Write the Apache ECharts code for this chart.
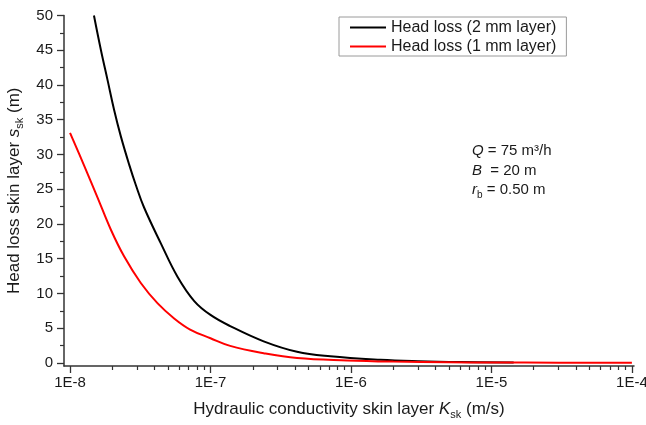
<!DOCTYPE html>
<html>
<head>
<meta charset="utf-8">
<script src="https://cdn.jsdelivr.net/npm/echarts@6/dist/echarts.min.js"></script>
<style>
html,body{margin:0;padding:0;background:#fff;}
#chart{width:646px;height:425px;}
</style>
</head>
<body>
<div id="chart"></div>
<script>
// ---- Data ----
// Hydraulic conductivity of skin layer K_sk (m/s) and head loss s_sk (m)
const kTwoMm = [1.48e-8, 1.66e-8, 1.85e-8, 2.06e-8, 2.30e-8, 2.64e-8, 2.94e-8, 3.36e-8, 4.43e-8, 5.82e-8, 7.66e-8, 1.0e-7, 1.38e-7, 2.39e-7, 4.13e-7, 7.13e-7, 1.62e-6, 3.0e-6, 6.0e-6, 1.44e-5];
const sTwoMm = [50.0, 45.0, 40.7, 36.4, 32.6, 28.5, 25.6, 22.4, 17.2, 12.4, 8.9, 6.9, 5.3, 3.1, 1.6, 0.95, 0.45, 0.25, 0.13, 0.07];

const kOneMm = [1.0e-8, 1.26e-8, 1.57e-8, 1.95e-8, 2.43e-8, 3.19e-8, 4.19e-8, 5.51e-8, 7.16e-8, 1.0e-7, 1.38e-7, 2.39e-7, 4.13e-7, 9.4e-7, 2.0e-6, 5.0e-6, 1.0e-5, 3.0e-5, 1.0e-4];
const sOneMm = [33.1, 28.4, 23.8, 19.2, 15.3, 11.5, 8.6, 6.4, 4.8, 3.55, 2.45, 1.4, 0.7, 0.35, 0.18, 0.08, 0.05, 0.03, 0.02];

const seriesNames = ['Head loss (2 mm layer)', 'Head loss (1 mm layer)'];
const xDecadeExponents = [-8, -7, -6, -5, -4];       // tick labels 1E-8 ... 1E-4
const yMajorTicks = [0, 5, 10, 15, 20, 25, 30, 35, 40, 45, 50];
const yMinorTicks = [2.5, 7.5, 12.5, 17.5, 22.5, 27.5, 32.5, 37.5, 42.5, 47.5];
const minorMultipliers = [2, 3, 4, 5, 6, 7, 8, 9];

// ---- Build chart ----
const FONT = "'Liberation Sans', Arial, sans-serif";
const TXT = '#1a1a1a';
const AX = '#333333';

const xMinorTicks = [];
for (let e = -8; e < -4; e++) {
  minorMultipliers.forEach(m => xMinorTicks.push(e + Math.log10(m)));
}
const toPairs = (ks, vs) => ks.map((k, i) => [Math.log10(k), vs[i]]);

const chart = echarts.init(document.getElementById('chart'), null, {renderer: 'canvas'});
const X_MIN = -8.043, X_MAX = -3.985;

const nameRich = {
  n: {fontSize: 17, fontFamily: FONT, color: TXT, lineHeight: 22},
  i: {fontSize: 17, fontFamily: FONT, color: TXT, fontStyle: 'italic', lineHeight: 22},
  sub: {fontSize: 11, fontFamily: FONT, color: TXT, verticalAlign: 'bottom', lineHeight: 12}
};

chart.setOption({
  animation: false,
  backgroundColor: '#ffffff',
  textStyle: {fontFamily: FONT},
  grid: {left: 64, right: 12, top: 15.5, bottom: 59, containLabel: false, outerBoundsMode: 'none'},
  legend: {
    orient: 'vertical',
    left: 339, top: 17,
    padding: [2, 10, 1, 11],
    itemGap: 2,
    itemWidth: 36, itemHeight: 2,
    icon: 'rect',
    borderColor: '#9a9a9a', borderWidth: 1,
    textStyle: {fontFamily: FONT, fontSize: 16, color: TXT, lineHeight: 17},
    data: seriesNames
  },
  xAxis: [
    {
      type: 'value', min: X_MIN, max: X_MAX, position: 'bottom',
      axisLine: {show: true, onZero: false, lineStyle: {color: AX, width: 1.5}},
      axisTick: {show: true, inside: false, length: 7, customValues: xDecadeExponents, lineStyle: {color: AX, width: 1.3}},
      axisLabel: {show: true, customValues: xDecadeExponents, formatter: v => '1E' + Math.round(v), fontSize: 15, color: TXT, margin: 9, fontFamily: FONT},
      splitLine: {show: false},
      name: '{n|Hydraulic conductivity skin layer }{i|K}{sub|sk}{n| (m/s)}',
      nameLocation: 'middle', nameGap: 32,
      nameTextStyle: {fontFamily: FONT, color: TXT, rich: nameRich}
    },
    {
      type: 'value', min: X_MIN, max: X_MAX, position: 'bottom',
      axisLine: {show: false, onZero: false},
      axisTick: {show: true, inside: false, length: 4, customValues: xMinorTicks, lineStyle: {color: AX, width: 1.2}},
      axisLabel: {show: false},
      splitLine: {show: false}
    }
  ],
  yAxis: [
    {
      type: 'value', min: -0.45, max: 50, position: 'left',
      axisLine: {show: true, onZero: false, lineStyle: {color: AX, width: 1.5}},
      axisTick: {show: true, inside: false, length: 7, customValues: yMajorTicks, lineStyle: {color: AX, width: 1.3}},
      axisLabel: {show: true, customValues: yMajorTicks, fontSize: 15, color: TXT, margin: 11, fontFamily: FONT},
      splitLine: {show: false},
      name: '{n|Head loss skin layer }{i|s}{sub|sk}{n| (m)}',
      nameLocation: 'middle', nameGap: 35, nameRotate: 90,
      nameTextStyle: {fontFamily: FONT, color: TXT, rich: nameRich}
    },
    {
      type: 'value', min: -0.45, max: 50, position: 'left',
      axisLine: {show: false, onZero: false},
      axisTick: {show: true, inside: false, length: 4, customValues: yMinorTicks, lineStyle: {color: AX, width: 1.2}},
      axisLabel: {show: false},
      splitLine: {show: false}
    }
  ],
  graphic: [
    {
      type: 'text', left: 472, top: 141,
      style: {
        text: '{i|Q}{n| = 75 m³/h}\n{i|B}{n|  = 20 m}\n{i|r}{sub|b}{n| = 0.50 m}',
        font: '15px ' + FONT,
        fill: TXT,
        lineHeight: 19.7,
        rich: {
          n: {fontSize: 15, fontFamily: FONT, fill: TXT, lineHeight: 19.7},
          i: {fontSize: 15, fontFamily: FONT, fill: TXT, fontStyle: 'italic', lineHeight: 19.7},
          sub: {fontSize: 10, fontFamily: FONT, fill: TXT, verticalAlign: 'bottom', lineHeight: 10}
        }
      }
    }
  ],
  series: [
    {
      name: seriesNames[0], type: 'line', xAxisIndex: 0, yAxisIndex: 0,
      data: toPairs(kTwoMm, sTwoMm),
      symbol: 'none', smooth: 0.4, clip: true,
      lineStyle: {color: '#000000', width: 2}, itemStyle: {color: '#000000'}
    },
    {
      name: seriesNames[1], type: 'line', xAxisIndex: 0, yAxisIndex: 0,
      data: toPairs(kOneMm, sOneMm),
      symbol: 'none', smooth: 0.4, clip: true,
      lineStyle: {color: '#ff0000', width: 2}, itemStyle: {color: '#ff0000'}
    }
  ]
});
</script>
</body>
</html>
